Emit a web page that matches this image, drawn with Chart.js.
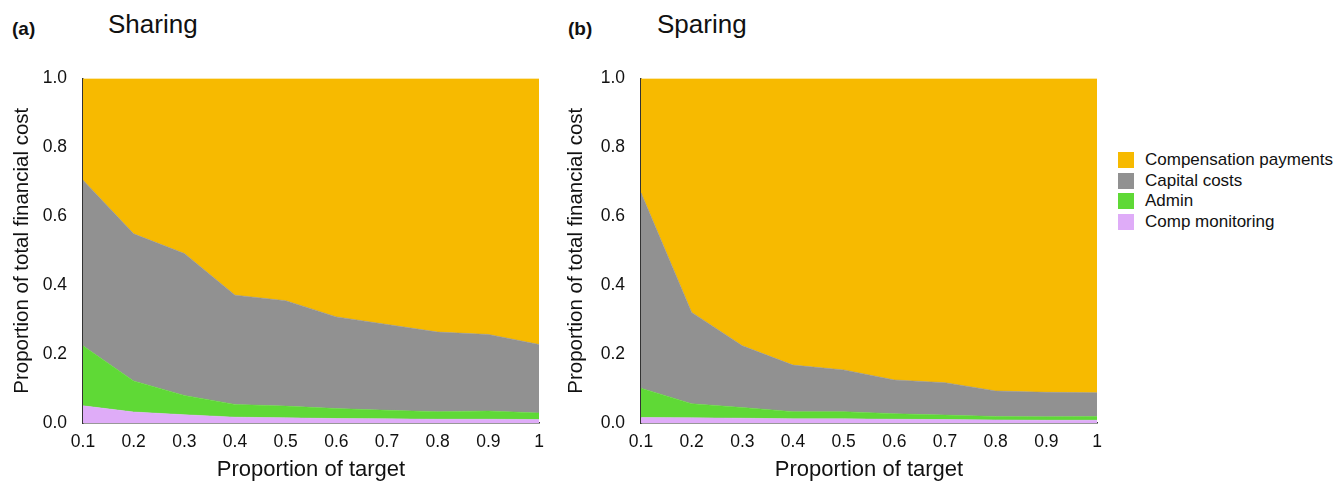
<!DOCTYPE html>
<html>
<head>
<meta charset="utf-8">
<script src="https://cdn.jsdelivr.net/npm/chart.js@4/dist/chart.umd.min.js"></script>
<style>
body{margin:0;background:#fff;font-family:"Liberation Sans",Arial,sans-serif;color:#111;}
#wrap{position:relative;width:1338px;height:483px;overflow:hidden;}
.box{position:absolute;top:52px;height:431px;width:560px;}
.lab{position:absolute;font-weight:bold;font-size:19px;top:18px;}
.ttl{position:absolute;font-size:26px;top:9px;}
#legend{position:absolute;left:1118px;top:150px;font-size:17px;}
#legend div{height:20.5px;display:flex;align-items:center;white-space:nowrap;}
#legend span{display:inline-block;width:16px;height:16px;margin-right:11px;}
</style>
</head>
<body>
<div id="wrap">
  <div class="lab" style="left:12px">(a)</div>
  <div class="ttl" style="left:108px">Sharing</div>
  <div class="lab" style="left:568px">(b)</div>
  <div class="ttl" style="left:657px">Sparing</div>
  <div class="box" style="left:0"><canvas id="cA"></canvas></div>
  <div class="box" style="left:558px"><canvas id="cB"></canvas></div>
  <div id="legend"></div>
</div>
<script>
const el=id=>document.getElementById(id);
const TARGET=["0.1","0.2","0.3","0.4","0.5","0.6","0.7","0.8","0.9","1"];
const Y_TICKS=[0,0.2,0.4,0.6,0.8,1.0];

// layer thickness per series, stacked bottom -> top
const SHARE_MONITOR=[0.050,0.032,0.024,0.017,0.015,0.013,0.012,0.011,0.011,0.010];
const SHARE_ADMIN  =[0.174,0.090,0.056,0.037,0.034,0.029,0.025,0.022,0.024,0.019];
const SHARE_CAPITAL=[0.481,0.427,0.412,0.317,0.306,0.266,0.249,0.231,0.222,0.199];
const SHARE_COMP   =[0.295,0.451,0.508,0.629,0.645,0.692,0.714,0.736,0.743,0.772];

const SPARE_MONITOR=[0.016,0.015,0.014,0.012,0.012,0.011,0.010,0.009,0.008,0.008];
const SPARE_ADMIN  =[0.085,0.041,0.031,0.021,0.021,0.016,0.013,0.010,0.010,0.011];
const SPARE_CAPITAL=[0.567,0.265,0.179,0.135,0.121,0.098,0.094,0.074,0.071,0.069];
const SPARE_COMP   =[0.332,0.679,0.776,0.832,0.846,0.875,0.883,0.907,0.911,0.912];

const SERIES=[
 ["Comp monitoring","#DFACF8"],["Admin","#5FD936"],["Capital costs","#919191"],["Compensation payments","#F7BA00"],
];
const FONT='"Liberation Sans",Arial,sans-serif';

function build(id,vals,yTitlePad){
  const datasets=vals.map((v,i)=>({label:SERIES[i][0],data:v,backgroundColor:SERIES[i][1],
    borderColor:SERIES[i][1],borderWidth:0.5,pointRadius:0,tension:0,fill:i===0?"origin":"-1"}));
  new Chart(el(id),{type:"line",data:{labels:TARGET,datasets},
    options:{responsive:true,maintainAspectRatio:false,animation:false,
      layout:{padding:{top:2,right:21,bottom:0,left:0}},
      plugins:{legend:{display:false},tooltip:{enabled:false}},
      scales:{
        x:{grid:{display:false,drawTicks:false},border:{display:true,color:"#333",width:1.5},
          ticks:{color:"#111",padding:9,maxRotation:0,font:{family:FONT,size:17.5}},
          title:{display:true,text:"Proportion of target",color:"#111",padding:{top:4,bottom:0},font:{family:FONT,size:22}},
          afterFit:s=>{s.height=60;}},
        y:{stacked:true,min:0,max:1,grid:{display:false,drawTicks:false},border:{display:true,color:"#333",width:1.5},
          afterBuildTicks:s=>{s.ticks=Y_TICKS.map(v=>({value:v}));},
          ticks:{color:"#111",padding:16,font:{family:FONT,size:17.5},callback:v=>Number(v).toFixed(1)},
          title:{display:true,text:"Proportion of total financial cost",color:"#111",padding:{top:yTitlePad,bottom:0},font:{family:FONT,size:20.5}},
          afterFit:s=>{s.width=83;}}
      }}});
}
build("cA",[SHARE_MONITOR,SHARE_ADMIN,SHARE_CAPITAL,SHARE_COMP],10);
build("cB",[SPARE_MONITOR,SPARE_ADMIN,SPARE_CAPITAL,SPARE_COMP],6);

el("legend").innerHTML=SERIES.slice().reverse().map(([n,c])=>`<div><span style="background:${c}"></span>${n}</div>`).join("");
</script>
</body>
</html>
